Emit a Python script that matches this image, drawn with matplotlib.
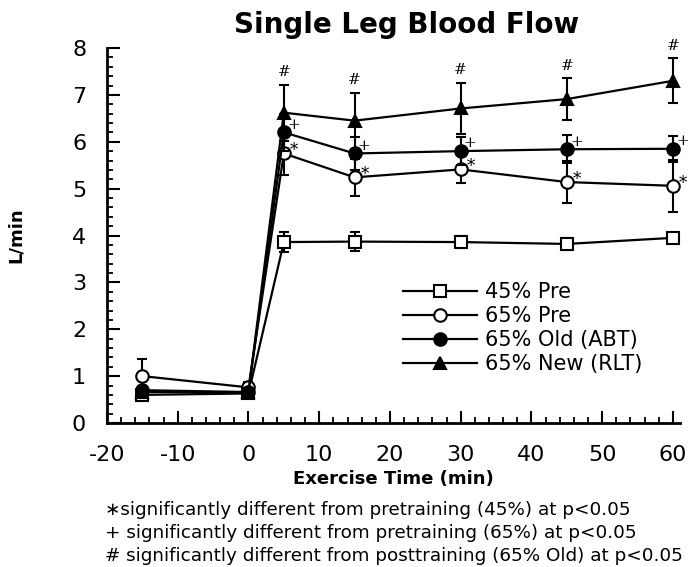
import numpy as np
import matplotlib
matplotlib.use('Agg')
import matplotlib.pyplot as plt
from matplotlib.ticker import MultipleLocator
from matplotlib.lines import Line2D

plt.rcParams['font.family'] = ['DejaVu Sans']
plt.rcParams['axes.unicode_minus'] = False

# %% Data
time_min = [-15, 0, 5, 15, 30, 45, 60]

pre45 = [0.60, 0.63, 3.86, 3.87, 3.86, 3.82, 3.95]
pre45_err = [0.05, 0.05, 0.21, 0.20, 0.12, 0.12, 0.10]

pre65 = [1.00, 0.76, 5.75, 5.24, 5.41, 5.14, 5.06]
pre65_err = [0.37, 0.12, 0.45, 0.40, 0.30, 0.45, 0.55]

old65 = [0.70, 0.66, 6.20, 5.75, 5.80, 5.84, 5.85]
old65_err = [0.08, 0.08, 0.40, 0.35, 0.30, 0.30, 0.28]

new65 = [0.66, 0.66, 6.62, 6.45, 6.71, 6.91, 7.30]
new65_err = [0.06, 0.06, 0.60, 0.60, 0.55, 0.45, 0.48]

series_labels = ['45% Pre', '65% Pre', '65% Old (ABT)', '65% New (RLT)']

# exercise time points carrying significance marks
sig_times = [5, 15, 30, 45, 60]

footnotes = [
    '\u2217significantly different from pretraining (45%) at p<0.05',
    '+ significantly different from pretraining (65%) at p<0.05',
    '# significantly different from posttraining (65% Old) at p<0.05',
]

# %% Plot
fig = plt.figure(figsize=(6.88, 5.67), dpi=100)
ax = fig.add_axes([107 / 688, 1 - 423 / 567, 573 / 688, 375 / 567])

style = dict(color='black', lw=1.6, ms=9, mew=1.5, capsize=3.5,
             elinewidth=1.5, capthick=1.5, clip_on=False)

marker_kw = [
    dict(marker='s', mfc='white'),
    dict(marker='o', mfc='white'),
    dict(marker='o', mfc='black'),
    dict(marker='^', mfc='black'),
]
all_means = [pre45, pre65, old65, new65]
all_errs = [pre45_err, pre65_err, old65_err, new65_err]

for k in range(4):
    ax.errorbar(time_min, all_means[k], yerr=all_errs[k], mec='black',
                zorder=3 + k, **marker_kw[k], **style)

# significance symbols
for i, t in enumerate(time_min):
    if t not in sig_times:
        continue
    ax.annotate('#', (t, new65[i] + new65_err[i]), xytext=(0, 9),
                textcoords='offset points', ha='center', va='center',
                fontsize=11, family='DejaVu Serif', annotation_clip=False)
    ax.annotate('+', (t, old65[i]), xytext=(6.8, 5.5),
                textcoords='offset points', ha='center', va='center',
                fontsize=11, family='DejaVu Serif', annotation_clip=False)
    ax.annotate('*', (t, pre65[i]), xytext=(7.5, 2),
                textcoords='offset points', ha='center', va='center',
                fontsize=12, family='DejaVu Serif', annotation_clip=False)

# axes styling
ax.set_xlim(-20, 61)
ax.set_ylim(0, 8)
ax.xaxis.set_major_locator(MultipleLocator(10))
ax.xaxis.set_minor_locator(MultipleLocator(2))
ax.yaxis.set_major_locator(MultipleLocator(1))
ax.yaxis.set_minor_locator(MultipleLocator(0.2))
for side in ['top', 'right']:
    ax.spines[side].set_visible(False)
for side in ['left', 'bottom']:
    ax.spines[side].set_linewidth(2)
ax.tick_params(which='major', direction='in', length=9, width=1.5,
               labelsize=16)
ax.tick_params(which='minor', direction='in', length=4.5, width=1.3)
ax.tick_params(axis='x', which='major', pad=16)
ax.tick_params(axis='y', which='major', pad=15)

ax.set_xlabel('Exercise Time (min)', fontsize=13, fontweight='bold')
ax.xaxis.set_label_coords(0.5, -0.125)
ax.set_ylabel('L/min', fontsize=13, fontweight='bold')
ax.yaxis.set_label_coords(-0.143, 0.5)

fig.text(407 / 688, 1 - 25 / 567, 'Single Leg Blood Flow', ha='center',
         va='center', fontsize=20, fontweight='bold')

# legend shows just line + marker
handles = [Line2D([], [], color='black', lw=1.6, ms=9, mew=1.5,
                  mec='black', **marker_kw[k]) for k in range(4)]
ax.legend(handles, series_labels, loc='upper left',
          bbox_to_anchor=(0.5166, 0.376), frameon=False, fontsize=15,
          handlelength=3.55, handletextpad=0.38, labelspacing=0.19,
          borderpad=0, borderaxespad=0)

# footnotes under the chart
for k, line in enumerate(footnotes):
    fig.text(105 / 688, 1 - (510 + 23 * k) / 567, line, ha='left',
             va='center', fontsize=13.2)

fig.savefig('out.png', dpi=100)
